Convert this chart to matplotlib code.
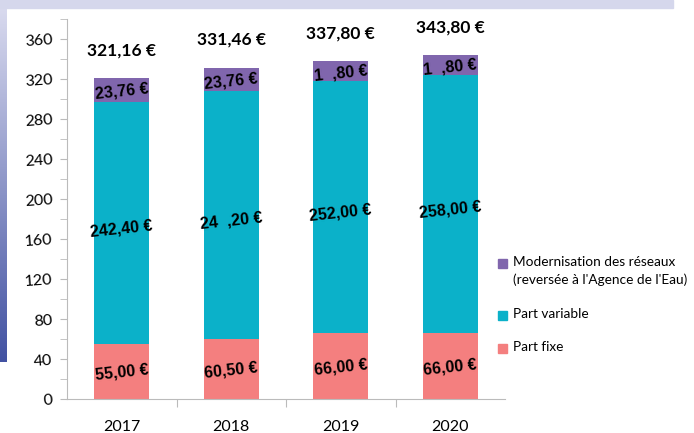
import numpy as np
import matplotlib
matplotlib.use("Agg")
import matplotlib.pyplot as plt
import matplotlib.patches as mpatches

# data
years = ["2017", "2018", "2019", "2020"]
part_fixe = [55.00, 60.50, 66.00, 66.00]
part_variable = [242.40, 247.20, 252.00, 258.00]
modernisation = [23.76, 23.76, 19.80, 19.80]
totals = [321.16, 331.46, 337.80, 343.80]

fixe_labels = ["55,00 €", "60,50 €", "66,00 €", "66,00 €"]
variable_labels = ["242,40 €", "24  ,20 €", "252,00 €", "258,00 €"]
modern_labels = ["23,76 €", "23,76 €", "1  ,80 €", "1  ,80 €"]
total_labels = ["321,16 €", "331,46 €", "337,80 €", "343,80 €"]

legend_names = ["Modernisation des réseaux\n(reversée à l'Agence de l'Eau)", "Part variable", "Part fixe"]

c_fixe = "#F47F7F"
c_var = "#0BB1C9"
c_mod = "#8066AD"

W, H = 694.0, 433.0
fig = plt.figure(figsize=(6.94, 4.33), dpi=100)

# background decoration: top band + left gradient
fig.patches.append(mpatches.Rectangle((0, 1 - 7.5/H), 673/W, 7.5/H,
                                      transform=fig.transFigure, color="#D5D7EC", zorder=0))
grad_ax = fig.add_axes([0, 1 - 362/H, 6/W, 362/H])
grad = np.linspace(0, 1, 256).reshape(-1, 1)
cmap = matplotlib.colors.LinearSegmentedColormap.from_list("g", ["#DCDDF0", "#4252A2"])
grad_ax.imshow(grad, aspect="auto", cmap=cmap)
grad_ax.axis("off")

ax = fig.add_axes([67/W, 1 - 399/H, (505 - 67)/W, 380/H])

x = np.arange(len(years))
w = 0.5
ax.bar(x, part_fixe, w, color=c_fixe, zorder=2)
bottom2 = np.array(part_fixe)
ax.bar(x, part_variable, w, bottom=bottom2, color=c_var, zorder=2)
bottom3 = bottom2 + np.array(part_variable)
ax.bar(x, modernisation, w, bottom=bottom3, color=c_mod, zorder=2)

lab_font = dict(family="Liberation Sans", weight="bold", fontsize=11.5, rotation=6,
                ha="center", va="center", color="black", zorder=3)
for i in range(len(years)):
    ax.text(x[i], part_fixe[i] / 2 - 1, fixe_labels[i], **lab_font)
    ax.text(x[i], bottom2[i] + part_variable[i] / 2 - 6, variable_labels[i], **lab_font)
    ax.text(x[i], bottom3[i] + modernisation[i] / 2 - 2, modern_labels[i], **lab_font)
    ax.annotate(total_labels[i], (x[i], totals[i]), xytext=(0, 20), textcoords="offset points",
                ha="center", va="center", fontsize=12.5, fontweight="bold", family="Lato")

ax.set_xlim(-0.5, 3.5)
ax.set_ylim(0, 380)
ax.set_yticks(np.arange(0, 361, 40))
ax.set_yticks(np.arange(20, 381, 40), minor=True)
ax.set_xticks([0.5, 1.5, 2.5])
ax.set_xticklabels([])
for i in range(len(years)):
    ax.annotate(years[i], (x[i], 0), xytext=(0, -20), textcoords="offset points",
                ha="center", va="center", fontsize=11.5, family="Lato")

ax.tick_params(axis="y", which="both", length=5, color="#BBBBBB", labelsize=11.5, pad=5)
ax.tick_params(axis="x", which="both", length=6, color="#BBBBBB")
for lab in ax.get_yticklabels():
    lab.set_family("Lato")
    lab.set_rotation(4)
    lab.set_va("center_baseline")
for s in ["top", "right"]:
    ax.spines[s].set_visible(False)
ax.spines["left"].set_color("#BBBBBB")
ax.spines["bottom"].set_color("#BBBBBB")

# legend drawn by hand so the swatch lines up with the first text line
leg_colors = [c_mod, c_var, c_fixe]
leg_y = [263, 315, 348]
for name, col, yy in zip(legend_names, leg_colors, leg_y):
    fig.patches.append(mpatches.Rectangle((498/W, 1 - (yy + 4.5)/H), 9/W, 9/H,
                                          transform=fig.transFigure, color=col))
    fig.text(513/W, 1 - (yy - 7)/H, name, ha="left", va="top", fontsize=9.8,
             family="Lato", linespacing=1.55)

fig.savefig("out.png", dpi=100)
